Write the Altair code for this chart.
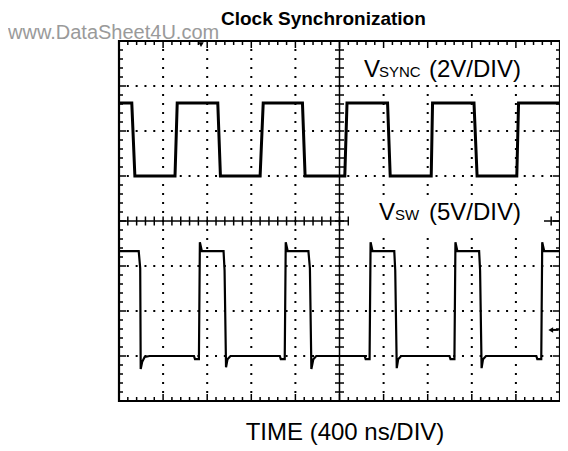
import altair as alt
import pandas as pd

# ---- trace data (time in divisions, amplitude in divisions from centre) ----
sync_t = [0, 0.29, 0.36, 1.27, 1.32, 2.24, 2.30, 3.20, 3.27, 4.16, 4.22, 5.12,
          5.17, 6.09, 6.15, 7.08, 7.11, 8.05, 8.12, 9.02, 9.06, 10]
sync_v = [2.62, 2.62, 1.0, 1.0, 2.62, 2.62, 1.0, 1.0, 2.62, 2.62, 1.0, 1.0,
          2.62, 2.62, 1.0, 1.0, 2.62, 2.62, 1.0, 1.0, 2.62, 2.62]

sw_t = [0, 0.447, 0.481, 0.492, 0.526, 0.582, 0.694, 1.700, 1.723, 1.812, 1.834, 1.879,
        2.371, 2.394, 2.427, 2.461, 2.528, 3.647, 3.669, 3.758, 3.781, 3.826,
        4.295, 4.329, 4.362, 4.407, 4.474, 5.570, 5.593, 5.682, 5.705, 5.749,
        6.242, 6.264, 6.298, 6.331, 6.398, 7.494, 7.517, 7.606, 7.629, 7.673,
        8.166, 8.188, 8.222, 8.255, 8.322, 9.463, 9.485, 9.575, 9.597, 9.642, 10]
sw_v = [-0.67, -0.67, -1.05, -3.29, -3.13, -3.02, -3.0, -3.0, -3.07, -3.07, -0.47, -0.67,
        -0.67, -1.1, -3.25, -3.07, -3.0, -3.0, -3.07, -3.07, -0.47, -0.67,
        -0.67, -1.05, -3.29, -3.07, -3.0, -3.0, -3.07, -3.07, -0.47, -0.67,
        -0.67, -1.1, -3.27, -3.07, -3.0, -3.0, -3.07, -3.07, -0.47, -0.67,
        -0.67, -1.1, -3.27, -3.07, -3.0, -3.0, -3.07, -3.07, -0.47, -0.67, -0.67]

# ---- graticule ----
major_x = [1, 2, 3, 4, 6, 7, 8, 9]
major_y = [-3, -2, -1, 1, 2, 3]
minor_x = [i / 5 for i in range(51)]
minor_y = [i / 5 - 4 for i in range(41)]

W, H = 441, 360
FONT = "Liberation Sans"
PX_X = 10 / W   # divisions per pixel horizontally
PX_Y = 8 / H    # divisions per pixel vertically

xs = alt.Scale(domain=[0, 10], nice=False, zero=False)
ys = alt.Scale(domain=[-4, 4], nice=False, zero=False)

def X(f="x"):
    return alt.X(f"{f}:Q", scale=xs, axis=None)

def Y(f="y"):
    return alt.Y(f"{f}:Q", scale=ys, axis=None)

sync_df = pd.DataFrame({"x": sync_t, "y": sync_v, "i": range(len(sync_t))})
sw_df = pd.DataFrame({"x": sw_t, "y": sw_v, "i": range(len(sw_t))})

# dotted grid lines
vgrid = alt.Chart(pd.DataFrame({"x": major_x})).mark_rule(
    color="black", strokeWidth=2, strokeDash=[2, 7], strokeDashOffset=1
).encode(x=X(), y=alt.value(0), y2=alt.value(H))
hgrid = alt.Chart(pd.DataFrame({"y": major_y})).mark_rule(
    color="black", strokeWidth=2, strokeDash=[2, W / 50 - 2], strokeDashOffset=1
).encode(y=Y(), x=alt.value(0), x2=alt.value(W))

# centre cross lines
cv = alt.Chart(pd.DataFrame({"x": [5]})).mark_rule(color="black", strokeWidth=1.5).encode(
    x=X(), y=alt.value(0), y2=alt.value(H))
ch = alt.Chart(pd.DataFrame({"y": [0]})).mark_rule(color="black", strokeWidth=1.5).encode(
    y=Y(), x=alt.value(0), x2=alt.value(W))

# vertical ticks: top/bottom border and centre horizontal line
vt_rows = []
for xv in minor_x:
    major = abs(xv - round(xv)) < 1e-9
    L = (7 if major else 4) * PX_Y
    vt_rows.append({"x": xv, "y": 4, "y2": 4 - L})
    vt_rows.append({"x": xv, "y": -4, "y2": -4 + L})
    vt_rows.append({"x": xv, "y": -4.5 * PX_Y, "y2": 4.5 * PX_Y})
vticks = alt.Chart(pd.DataFrame(vt_rows)).mark_rule(color="black", strokeWidth=1.5).encode(
    x=X(), y=Y(), y2="y2:Q")

# horizontal ticks: left/right border and centre vertical line
ht_rows = []
for yv in minor_y:
    major = abs(yv - round(yv)) < 1e-9
    L = (7 if major else 4) * PX_X
    ht_rows.append({"y": yv, "x": 0, "x2": L})
    ht_rows.append({"y": yv, "x": 10, "x2": 10 - L})
    ht_rows.append({"y": yv, "x": 5 - 4.5 * PX_X, "x2": 5 + 4.5 * PX_X})
hticks = alt.Chart(pd.DataFrame(ht_rows)).mark_rule(color="black", strokeWidth=1.5).encode(
    x=X(), x2="x2:Q", y=Y())

# frame
frame = alt.Chart(pd.DataFrame({"x": [0], "x2": [10], "y": [-4], "y2": [4]})).mark_rect(
    fill=None, stroke="black", strokeWidth=2.2
).encode(x=X(), x2="x2:Q", y=Y(), y2="y2:Q")

# white boxes behind channel labels
box1 = alt.Chart(pd.DataFrame({"a": [0]})).mark_rect(color="white").encode(
    x=alt.value(233), x2=alt.value(420), y=alt.value(7), y2=alt.value(41))
box2 = alt.Chart(pd.DataFrame({"a": [0]})).mark_rect(color="white").encode(
    x=alt.value(230), x2=alt.value(425), y=alt.value(157), y2=alt.value(191))

# traces
sync_line = alt.Chart(sync_df).mark_line(color="black", strokeWidth=3, clip=True).encode(
    x=X(), y=Y(), order="i:Q")
sw_line = alt.Chart(sw_df).mark_line(color="black", strokeWidth=2.2, clip=True).encode(
    x=X(), y=Y(), order="i:Q")

# markers
trig = alt.Chart(pd.DataFrame({"x": [1.86], "y": [3.92]})).mark_point(
    shape="triangle-down", filled=True, color="black", size=30, opacity=1
).encode(x=X(), y=Y())
gnd_head = alt.Chart(pd.DataFrame({"x": [9.79], "y": [-2.42]})).mark_point(
    shape="triangle-left", filled=True, color="black", size=30, opacity=1
).encode(x=X(), y=Y())
gnd_line = alt.Chart(pd.DataFrame({"x": [9.79], "x2": [9.97], "y": [-2.42]})).mark_rule(
    color="black", strokeWidth=2
).encode(x=X(), x2="x2:Q", y=Y())

def txt(s, x, y, size, bold=False, color="black", align="left"):
    return alt.Chart(pd.DataFrame({"t": [s]})).mark_text(
        font=FONT, fontSize=size, fontWeight="bold" if bold else "normal",
        color=color, align=align, baseline="alphabetic"
    ).encode(text="t:N", x=alt.value(x), y=alt.value(y))

texts = [
    txt("Clock Synchronization", 102, -16, 19, bold=True),
    txt("www.DataSheet4U.com", -111, -2, 20, color="#9a9a9a"),
    txt("V", 245, 36, 24),
    txt("SYNC", 260, 36, 15),
    txt("(2V/DIV)", 310, 36, 24),
    txt("V", 260, 179, 24),
    txt("SW", 276, 179, 15),
    txt("(5V/DIV)", 310, 179, 24),
    txt("TIME (400 ns/DIV)", 226, 399, 24, align="center"),
]

chart = alt.layer(
    vgrid, hgrid, cv, ch, vticks, hticks, box1, box2, frame,
    sync_line, sw_line, trig, gnd_head, gnd_line, *texts
).properties(
    width=W, height=H,
    autosize=alt.AutoSizeParams(type="none"),
    padding={"left": 111, "top": 33, "right": 0, "bottom": 50},
    background="white",
).configure_view(stroke=None)

chart.save("out.html", embed_options={"renderer": "svg", "actions": False})
